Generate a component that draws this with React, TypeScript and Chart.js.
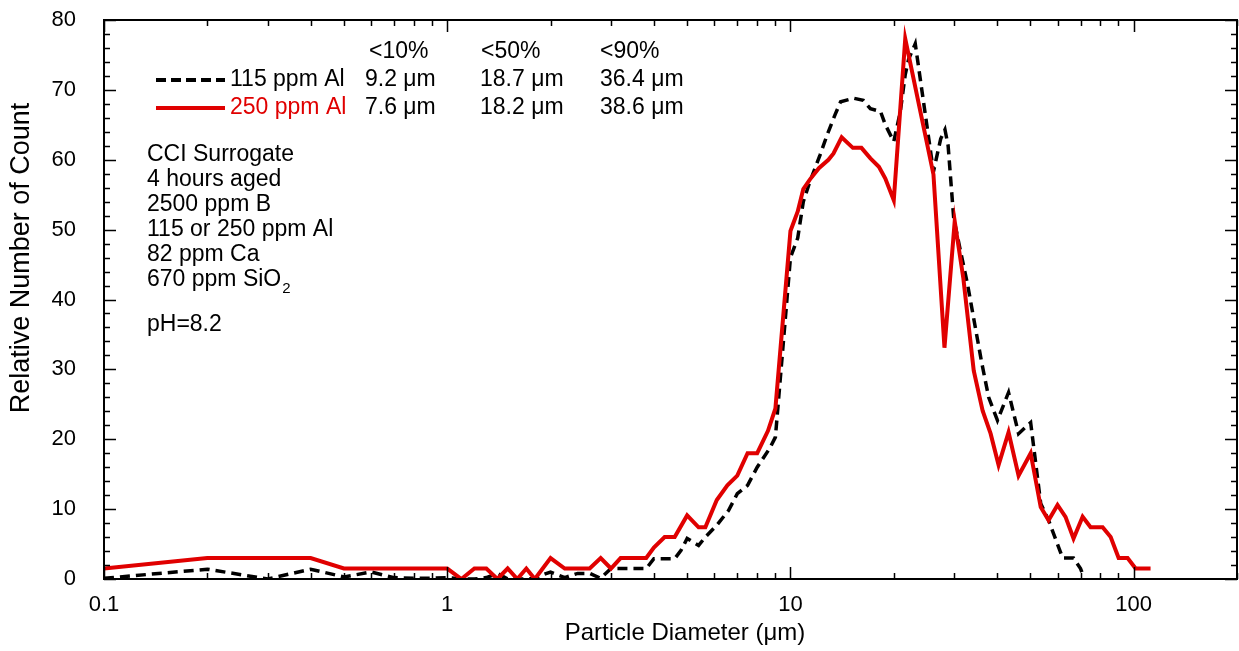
import React, { useEffect, useRef } from 'react';
import { Chart, registerables } from 'chart.js';

Chart.register(...registerables);

// ---- data ----
const d115 = [0.1, 0.2, 0.3, 0.4, 0.5, 0.6, 0.7, 0.8, 0.9, 1.0, 1.1, 1.2, 1.3, 1.4, 1.5, 1.6, 1.7, 1.8, 1.9, 2.0,
  2.2, 2.4, 2.6, 2.8, 3.0, 3.2, 3.5, 3.8, 4.0, 4.3, 4.6, 4.8, 5.0, 5.4, 5.65, 6.1, 6.6, 7.0, 7.5, 8.0, 8.7, 9.04,
  10.0, 10.5, 10.9, 11.4, 12.2, 12.8, 13.5, 14.0, 15.3, 16.3, 17.1, 18.3, 18.9, 20.0, 20.9, 21.6, 22.1, 23.1,
  26.1, 27.4, 28.2, 28.8, 29.9, 31.3, 32.8, 36.0, 37.8, 40.1, 43.2, 46.2, 50.1, 53.6, 56.5, 62.1, 66.8, 70.0, 71.5];
const c115 = [0.1, 1.4, 0, 1.4, 0.3, 1.0, 0.2, 0.1, 0.1, 0.2, 0, 0, 0.2, 0.8, 0, 0, 0, 0.1, 0.6, 1.0,
  0.2, 0.8, 0.8, 0.1, 1.5, 1.5, 1.5, 1.5, 2.9, 2.9, 2.9, 4.1, 5.8, 4.8, 6.0, 7.7, 9.8, 12.2, 13.4, 16.0, 18.7, 20.3,
  46.0, 48.8, 54.0, 56.9, 60.7, 63.6, 66.5, 68.3, 68.8, 68.5, 67.3, 66.9, 65.0, 62.6, 66.9, 72.2, 74.4, 76.6,
  58.3, 63.0, 64.3, 62.0, 51.6, 46.9, 42.2, 31.2, 26.0, 22.7, 26.7, 20.8, 22.4, 10.8, 8.4, 3.0, 3.0, 1.5, 0.3];

const d250 = [0.1, 0.2, 0.4, 0.5, 1.0, 1.1, 1.2, 1.3, 1.4, 1.5, 1.6, 1.7, 1.8,
  2.0, 2.2, 2.4, 2.6, 2.8, 3.0, 3.2, 3.5, 3.8, 4.0, 4.3, 4.6, 5.0, 5.4, 5.65,
  6.1, 6.55, 7.0, 7.5, 8.0, 8.6, 9.04, 10.0, 10.5, 10.9, 11.4, 12.1, 12.9, 13.35, 14.1,
  15.2, 16.1, 17.1, 18.1, 18.9, 20.0, 21.6, 26.1, 28.1, 30.1, 31.9, 34.2, 36.3, 38.3, 40.4,
  43.2, 46.2, 50.1, 53.6, 56.5, 60.0, 63.3, 66.8, 71.0, 74.9, 81.2, 85.7, 90.4, 96.0, 101.3, 112];
const c250 = [1.5, 3.0, 3.0, 1.5, 1.5, 0, 1.5, 1.5, 0, 1.5, 0, 1.5, 0,
  3.0, 1.5, 1.5, 1.5, 3.0, 1.5, 3.0, 3.0, 3.0, 4.5, 6.0, 6.0, 9.1, 7.4, 7.4,
  11.3, 13.4, 14.8, 18.0, 18.0, 21.2, 24.4, 49.8, 52.6, 55.8, 57.2, 58.8, 60.0, 60.9, 63.2,
  61.7, 61.7, 60.2, 59.0, 57.3, 54.2, 77.3, 57.9, 33.1, 51.2, 43.0, 29.8, 24.1, 20.8, 16.3,
  21.0, 14.8, 18.0, 10.3, 8.4, 10.6, 8.9, 5.8, 8.9, 7.4, 7.4, 6.0, 3.0, 3.0, 1.5, 1.5];

const xLabelTicks = [0.1, 1, 10, 100];
const yLabelTicks = [0, 10, 20, 30, 40, 50, 60, 70, 80];
const seriesNames = ['115 ppm Al', '250 ppm Al'];
const percentileHeads = ['<10%', '<50%', '<90%'];
const stats115 = ['9.2 \u03bcm', '18.7 \u03bcm', '36.4 \u03bcm'];
const stats250 = ['7.6 \u03bcm', '18.2 \u03bcm', '38.6 \u03bcm'];
const notes = ['CCI Surrogate', '4 hours aged', '2500 ppm B', '115 or 250 ppm Al', '82 ppm Ca'];
const sioNote = '670 ppm SiO';
const phNote = 'pH=8.2';
const xTitle = 'Particle Diameter (\u03bcm)';
const yTitle = 'Relative Number of Count';

const FONT = '"Liberation Sans", Arial, Helvetica, sans-serif';
const RED = '#e00000';

const framePlugin = {
  id: 'frame',
  afterDraw(chart: any) {
    const { ctx, chartArea: a, scales } = chart;
    const x = scales.x;
    const y = scales.y;
    ctx.save();
    ctx.strokeStyle = '#000';
    ctx.lineWidth = 1.5;
    ctx.beginPath();
    for (const dec of [0.1, 1, 10, 100]) {
      for (let k = 1; k <= 9; k++) {
        const v = k * dec;
        if (v > 200 + 1e-9) continue;
        const px = Math.round(x.getPixelForValue(v)) + 0.5;
        const len = k === 1 ? 12 : 6;
        ctx.moveTo(px, a.bottom);
        ctx.lineTo(px, a.bottom - len);
        ctx.moveTo(px, a.top);
        ctx.lineTo(px, a.top + len);
      }
    }
    for (let v = 0; v <= 80; v += 2) {
      const py = Math.round(y.getPixelForValue(v)) + 0.5;
      const len = v % 10 === 0 ? 12 : 6;
      ctx.moveTo(a.left, py);
      ctx.lineTo(a.left + len, py);
      ctx.moveTo(a.right, py);
      ctx.lineTo(a.right - len, py);
    }
    ctx.stroke();
    ctx.lineWidth = 2;
    ctx.strokeRect(a.left, a.top, a.right - a.left, a.bottom - a.top);
    ctx.restore();
  },
};

const textPlugin = {
  id: 'texts',
  afterDraw(chart: any) {
    const { ctx } = chart;
    ctx.save();
    ctx.textBaseline = 'middle';
    ctx.fillStyle = '#000';
    // axis titles
    ctx.font = `24px ${FONT}`;
    ctx.textAlign = 'center';
    ctx.fillText(xTitle, 685, 633);
    ctx.save();
    ctx.translate(22, 258);
    ctx.rotate(-Math.PI / 2);
    ctx.font = `27px ${FONT}`;
    ctx.fillText(yTitle, 0, 0);
    ctx.restore();

    ctx.font = `23px ${FONT}`;
    ctx.textAlign = 'left';
    const colX = [369, 481, 600];
    percentileHeads.forEach((t, i) => ctx.fillText(t, colX[i], 52));
    const statX = [365, 480, 600];
    stats115.forEach((t, i) => ctx.fillText(t, statX[i], 80));
    stats250.forEach((t, i) => ctx.fillText(t, statX[i], 108));
    // legend
    ctx.strokeStyle = '#000';
    ctx.lineWidth = 4;
    ctx.setLineDash([10, 5]);
    ctx.beginPath();
    ctx.moveTo(156, 80);
    ctx.lineTo(225, 80);
    ctx.stroke();
    ctx.setLineDash([]);
    ctx.strokeStyle = RED;
    ctx.beginPath();
    ctx.moveTo(156, 108);
    ctx.lineTo(225, 108);
    ctx.stroke();
    ctx.fillStyle = '#000';
    ctx.fillText(seriesNames[0], 230, 80);
    ctx.fillStyle = RED;
    ctx.fillText(seriesNames[1], 230, 108);
    ctx.fillStyle = '#000';
    notes.forEach((t, i) => ctx.fillText(t, 147, 155 + i * 25));
    const sy = 155 + notes.length * 25;
    ctx.fillText(sioNote, 147, sy);
    const w = ctx.measureText(sioNote).width;
    ctx.font = `15px ${FONT}`;
    ctx.fillText('2', 147 + w + 1, sy + 9);
    ctx.font = `23px ${FONT}`;
    ctx.fillText(phNote, 147, 325);
    ctx.restore();
  },
};

export default function App() {
  const ref = useRef<HTMLCanvasElement>(null);
  useEffect(() => {
    document.body.style.margin = '0';
    const canvas = ref.current as HTMLCanvasElement;
    const chart = new Chart(canvas, {
      type: 'line',
      data: {
        datasets: [
          {
            label: seriesNames[1],
            data: d250.map((d, i) => ({ x: d, y: c250[i] })),
            borderColor: RED,
            borderWidth: 4,
            pointRadius: 0,
            tension: 0,
            fill: false,
            order: 0,
          },
          {
            label: seriesNames[0],
            data: d115.map((d, i) => ({ x: d, y: c115[i] })),
            borderColor: '#000',
            borderWidth: 3.5,
            borderDash: [10, 6],
            pointRadius: 0,
            tension: 0,
            fill: false,
            order: 1,
          },
        ],
      },
      options: {
        responsive: false,
        animation: false,
        devicePixelRatio: 1,
        layout: { padding: { top: 20, right: 2, bottom: 0, left: 0 } },
        plugins: { legend: { display: false }, tooltip: { enabled: false } },
        scales: {
          x: {
            type: 'logarithmic',
            min: 0.1,
            max: 200,
            grid: { display: false, drawTicks: false },
            border: { display: false },
            afterBuildTicks: (s: any) => {
              s.ticks = xLabelTicks.map((v) => ({ value: v }));
            },
            afterFit: (s: any) => {
              s.height = 72;
              s.paddingLeft = 0;
              s.paddingRight = 0;
            },
            ticks: {
              callback: (v: any) => String(v),
              font: { family: FONT, size: 22 },
              color: '#000',
              padding: 13,
              autoSkip: false,
              maxRotation: 0,
            },
          },
          y: {
            min: 0,
            max: 80,
            grid: { display: false, drawTicks: false },
            border: { display: false },
            afterBuildTicks: (s: any) => {
              s.ticks = yLabelTicks.map((v) => ({ value: v }));
            },
            afterFit: (s: any) => {
              s.width = 104;
              s.paddingTop = 0;
              s.paddingBottom = 0;
            },
            ticks: {
              font: { family: FONT, size: 22 },
              color: '#000',
              padding: 28,
            },
          },
        },
      },
      plugins: [framePlugin, textPlugin],
    } as any);
    return () => chart.destroy();
  }, []);
  return (
    <div style={{ width: 1239, height: 651 }}>
      <canvas ref={ref} width={1239} height={651} style={{ display: 'block' }} />
    </div>
  );
}
